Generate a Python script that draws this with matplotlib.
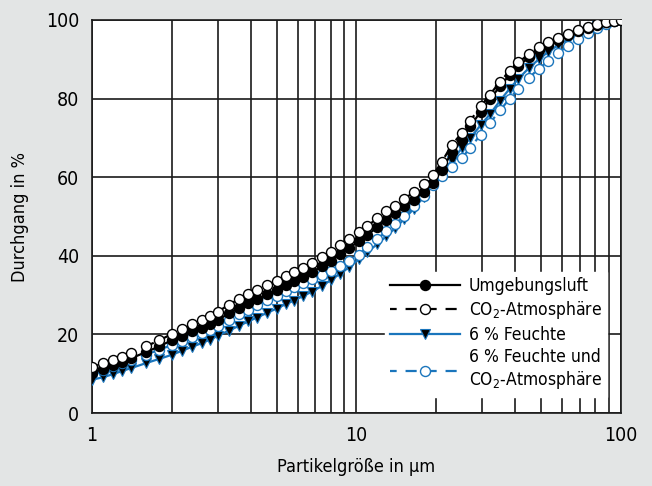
import matplotlib
matplotlib.use("Agg")
import matplotlib.pyplot as plt
from matplotlib.ticker import FixedLocator, NullFormatter

plt.rcParams['font.family'] = ['DejaVu Sans']
plt.rcParams['font.stretch'] = 'condensed'

# particle size in micrometre
size = [1.0, 1.1, 1.2, 1.3, 1.4, 1.6, 1.8, 2.0, 2.2, 2.4, 2.6, 2.8, 3.0, 3.3, 3.6, 3.9,
        4.2, 4.6, 5.0, 5.4, 5.8, 6.3, 6.8, 7.4, 8.0, 8.7, 9.4, 10.2, 11, 12, 13, 14,
        15.2, 16.5, 18, 19.5, 21, 23, 25, 27, 29.5, 32, 35, 38, 41, 45, 49, 53, 58,
        63, 69, 75, 81, 88, 94, 100]

umgebungsluft = [10.3, 11.3, 12.2, 12.9, 13.9, 15.5, 17.0, 18.5, 19.7, 20.8, 21.7, 22.6,
                 23.7, 25.4, 26.8, 27.9, 28.9, 30.2, 31.4, 32.5, 33.5, 34.7, 35.9, 37.3,
                 38.8, 40.5, 42.0, 43.7, 45.3, 47.3, 49.2, 50.8, 52.6, 54.3, 56.3, 58.5,
                 61.8, 66.3, 69.5, 72.9, 76.7, 79.8, 83.2, 86.0, 88.3, 90.5, 92.3, 93.7,
                 95.0, 96.1, 97.2, 98.0, 98.8, 99.4, 99.8, 100]

co2 = [11.6, 12.7, 13.6, 14.3, 15.3, 17.0, 18.5, 20.1, 21.4, 22.6, 23.6, 24.6,
       25.8, 27.6, 29.0, 30.2, 31.2, 32.5, 33.7, 34.8, 35.8, 37.0, 38.2, 39.6,
       41.1, 42.8, 44.3, 46.0, 47.6, 49.5, 51.3, 52.8, 54.5, 56.2, 58.2, 60.5,
       63.8, 68.2, 71.2, 74.4, 78.0, 81.0, 84.3, 87.0, 89.2, 91.3, 93.0, 94.3,
       95.5, 96.5, 97.5, 98.3, 99.0, 99.5, 99.8, 100]

feuchte = [8.5, 9.1, 9.9, 10.7, 11.4, 12.7, 13.8, 14.8, 15.9, 16.9, 17.8, 18.7,
           19.7, 21.0, 22.2, 23.3, 24.3, 25.5, 26.6, 27.7, 28.6, 29.8, 30.9, 32.3,
           33.8, 35.5, 37.1, 39.1, 40.9, 43.0, 45.0, 47.0, 49.4, 52.0, 55.0, 58.0,
           61.0, 64.2, 67.3, 70.0, 73.2, 76.0, 79.5, 82.5, 85.0, 87.8, 90.0, 91.8,
           93.6, 95.0, 96.4, 97.5, 98.4, 99.2, 99.7, 100]

feuchte_co2 = [10.4, 11.0, 11.9, 12.7, 13.5, 14.9, 16.1, 17.3, 18.4, 19.4, 20.3, 21.2,
               22.2, 23.8, 25.1, 26.3, 27.4, 28.7, 29.9, 31.0, 32.0, 33.1, 34.1, 35.2,
               36.2, 37.4, 38.7, 40.3, 42.3, 44.3, 46.2, 48.0, 50.2, 52.6, 55.3, 58.0,
               60.3, 62.5, 64.8, 67.5, 70.8, 73.8, 77.0, 80.0, 82.5, 85.3, 87.6, 89.5,
               91.6, 93.4, 95.2, 96.7, 97.9, 99.0, 99.6, 100]

blue = '#1a75bc'
bg = '#e3e5e5'

fig = plt.figure(figsize=(6.52, 4.86), dpi=100, facecolor=bg)
ax = fig.add_axes([0.141, 0.150, 0.811, 0.809])
ax.set_facecolor('white')

h3, = ax.plot(size, feuchte, color=blue, lw=1.6, marker='v', ms=6.8,
              mfc='black', mec=blue, mew=0.8, zorder=3)
h4, = ax.plot(size, feuchte_co2, color=blue, lw=1.6, ls=(2, (5, 4)), marker='o', ms=7.2,
              mfc='white', mec=blue, mew=1.0, zorder=4)
h1, = ax.plot(size, umgebungsluft, color='black', lw=1.6, marker='o', ms=7.2,
              mfc='black', mec='black', zorder=5)
h2, = ax.plot(size, co2, color='black', lw=1.6, ls=(2, (5, 4)), marker='o', ms=7.2,
              mfc='white', mec='black', mew=1.0, zorder=6)

ax.set_xscale('log')
ax.set_xlim(1, 100)
ax.set_ylim(0, 100)
ax.xaxis.set_major_locator(FixedLocator([1, 10, 100]))
ax.xaxis.set_minor_locator(FixedLocator([2, 3, 4, 5, 6, 7, 8, 9, 20, 30, 40, 50, 60, 70, 80, 90]))
ax.xaxis.set_minor_formatter(NullFormatter())
ax.set_xticks([1, 10, 100])
ax.set_xticklabels(['1', '10', '100'])
ax.set_yticks([0, 20, 40, 60, 80, 100])
ax.tick_params(which='both', length=0, labelsize=14, pad=9)
ax.grid(True, which='both', color='#1a1a1a', lw=1.2, zorder=1)
for s in ax.spines.values():
    s.set_linewidth(1.2)
    s.set_color('#1a1a1a')
    s.set_zorder(2)
ax.set_axisbelow(True)

ax.set_xlabel('Partikelgröße in µm', fontsize=13, labelpad=10)
ax.set_ylabel('Durchgang in %', fontsize=13, labelpad=12)

leg = ax.legend([h1, h2, h3, h4],
                ['Umgebungsluft', 'CO$_2$-Atmosphäre', '6 % Feuchte',
                 '6 % Feuchte und\nCO$_2$-Atmosphäre'],
                loc='lower right', bbox_to_anchor=(0.99, 0.02), fontsize=12.5,
                frameon=True, fancybox=False, framealpha=1, edgecolor='white',
                handlelength=4.0, handletextpad=0.5, labelspacing=0.25,
                borderpad=0.3)
leg.set_zorder(10)

fig.savefig('out.png', dpi=100, facecolor=bg)
